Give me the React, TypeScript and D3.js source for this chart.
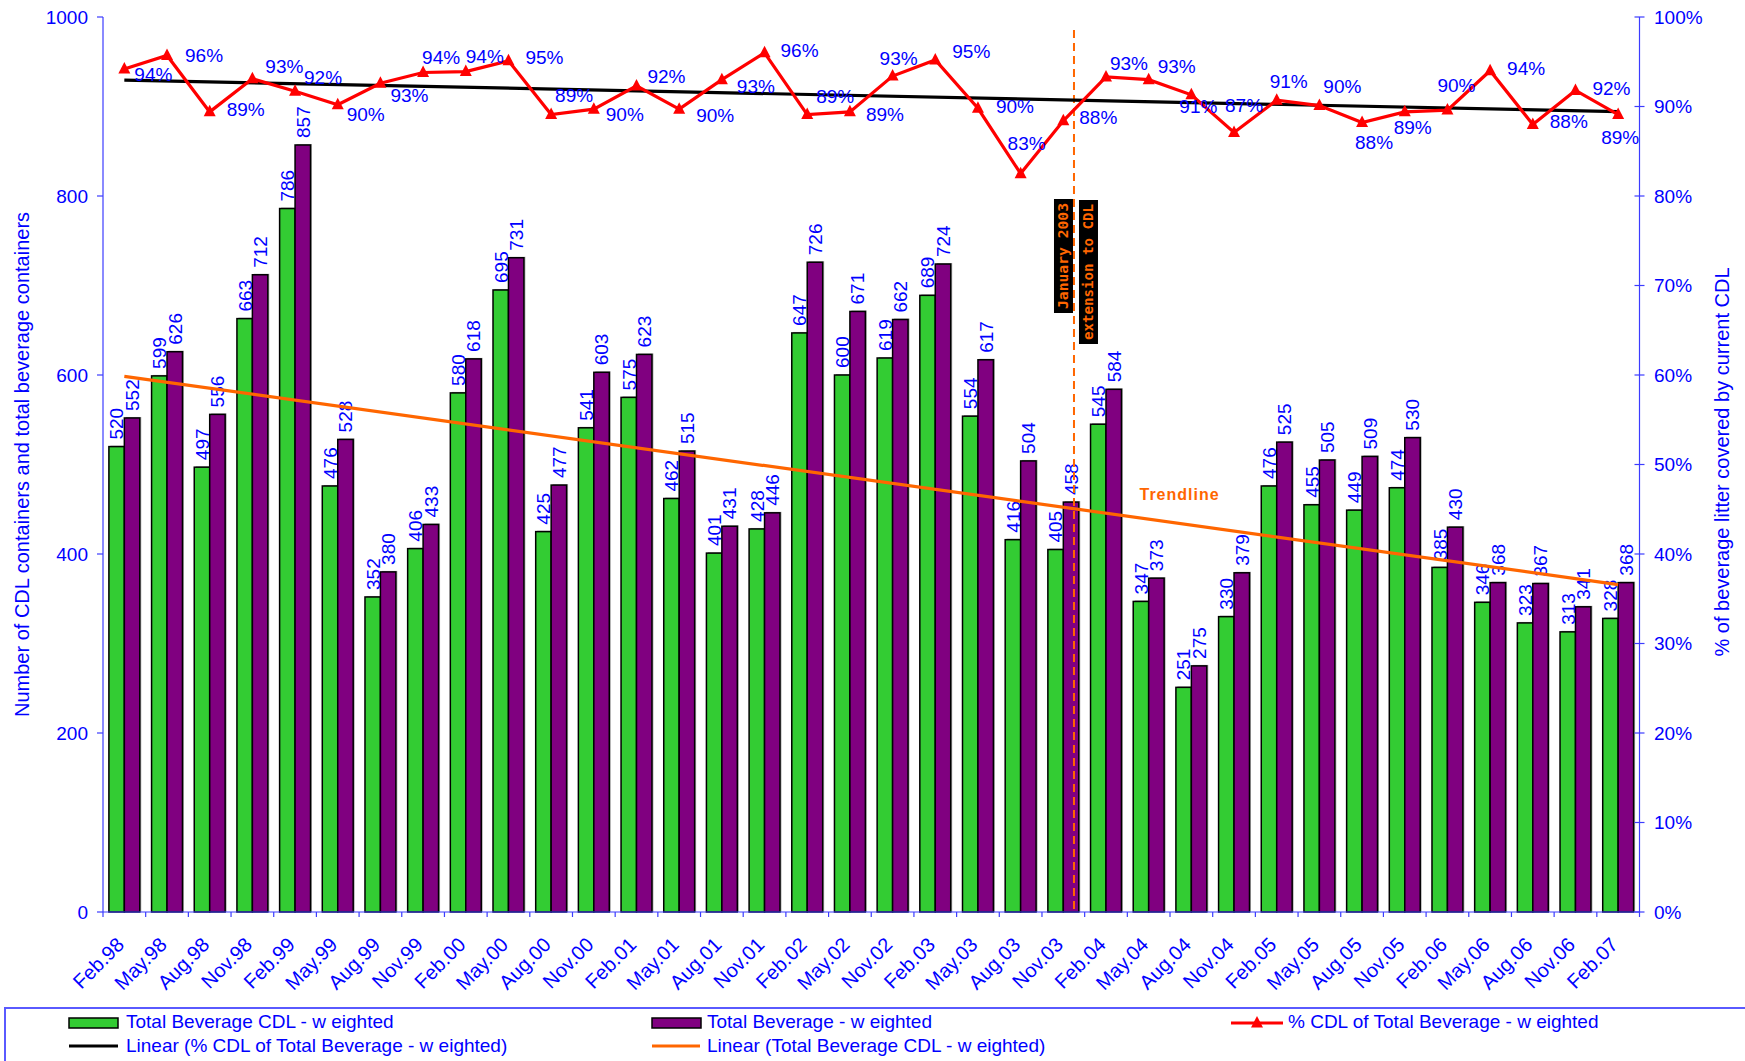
import React from "react";
import * as d3 from "d3";

// ---------- data ----------
const categories = [
  "Feb.98", "May.98", "Aug.98", "Nov.98", "Feb.99", "May.99", "Aug.99", "Nov.99",
  "Feb.00", "May.00", "Aug.00", "Nov.00", "Feb.01", "May.01", "Aug.01", "Nov.01",
  "Feb.02", "May.02", "Nov.02", "Feb.03", "May.03", "Aug.03", "Nov.03", "Feb.04",
  "May.04", "Aug.04", "Nov.04", "Feb.05", "May.05", "Aug.05", "Nov.05", "Feb.06",
  "May.06", "Aug.06", "Nov.06", "Feb.07",
];

const totalBeverageCDL = [
  520, 599, 497, 663, 786, 476, 352, 406, 580, 695, 425, 541, 575, 462, 401, 428,
  647, 600, 619, 689, 554, 416, 405, 545, 347, 251, 330, 476, 455, 449, 474, 385,
  346, 323, 313, 328,
];

const totalBeverage = [
  552, 626, 556, 712, 857, 528, 380, 433, 618, 731, 477, 603, 623, 515, 431, 446,
  726, 671, 662, 724, 617, 504, 458, 584, 373, 275, 379, 525, 505, 509, 530, 430,
  368, 367, 341, 368,
];

const pctCDL = [
  94.2, 95.7, 89.4, 93.1, 91.7, 90.2, 92.6, 93.8, 93.9, 95.1, 89.1, 89.7, 92.3, 89.7,
  93.0, 96.0, 89.1, 89.4, 93.4, 95.2, 89.8, 82.5, 88.4, 93.3, 93.0, 91.3, 87.1, 90.7,
  90.1, 88.2, 89.4, 89.6, 94.0, 88.0, 91.8, 89.1,
];

const leftTicks = [0, 200, 400, 600, 800, 1000];
const rightTicks = [0, 10, 20, 30, 40, 50, 60, 70, 80, 90, 100];

// ---------- layout (label nudges, px) ----------
const pctLabelOffsets: [number, number][] = [
  [29, 6], [37, 0], [36, -2], [32, -12], [28, -14], [28, 10], [29, 12], [18, -15],
  [19, -15], [36, -3], [23, -19], [31, 5], [30, -9], [36, 6], [34, 7], [35, -2],
  [28, -18], [35, 3], [6, -18], [36, -8], [37, -2], [6, -30], [35, -3], [23, -13],
  [28, -13], [7, 12], [10, -27], [12, -19], [23, -19], [12, 20], [8, 16], [9, -25],
  [36, -2], [36, -3], [36, -2], [2, 23],
];

const W = 1745;
const H = 1061;
const PL = 103;
const PR = 1639.5;
const PT = 17;
const PB = 912;
const FONT = "'Liberation Sans', Arial, Helvetica, sans-serif";
const BLUE = "#0000ff";
const AXIS = "#3c3cff";
const GREEN = "#33cc33";
const PURPLE = "#800080";
const ORANGE = "#ff6600";

function linReg(vals: number[]) {
  const n = vals.length;
  const xs = d3.range(n);
  const mx = d3.mean(xs) as number;
  const my = d3.mean(vals) as number;
  let num = 0;
  let den = 0;
  xs.forEach((x, i) => {
    num += (x - mx) * (vals[i] - my);
    den += (x - mx) * (x - mx);
  });
  const b = num / den;
  const a = my - b * mx;
  return (x: number) => a + b * x;
}

export default function App() {
  const x = d3.scaleBand<string>().domain(categories).range([PL, PR]).padding(0);
  const bw = x.bandwidth();
  const barW = bw * 0.362;
  const cx = (c: string) => (x(c) as number) + bw / 2;
  const yL = d3.scaleLinear().domain([0, 1000]).range([PB, PT]);
  const yR = d3.scaleLinear().domain([0, 100]).range([PB, PT]);

  const pctLine = d3
    .line<number>()
    .x((_, i) => cx(categories[i]))
    .y((d) => yR(d));

  const regPct = linReg(pctCDL);
  const regCDL = linReg(totalBeverageCDL);
  const n = categories.length;
  const x0 = cx(categories[0]);
  const x1 = cx(categories[n - 1]);

  const tri = (px: number, py: number, s = 1) =>
    `M${px},${py - 7 * s}L${px + 6 * s},${py + 4.5 * s}L${px - 6 * s},${py + 4.5 * s}Z`;

  const dashX = (x("Nov.03") as number) + bw * 0.75;

  const barLabel = (bx: number, v: number, key: string) => (
    <text
      key={key}
      transform={`translate(${bx + barW / 2},${yL(v) - 7}) rotate(-90)`}
      textAnchor="start"
      dy="0.36em"
      fontSize={19}
      fill={BLUE}
    >
      {v}
    </text>
  );

  return (
    <svg
      width={W}
      height={H}
      style={{ position: "absolute", left: 0, top: 0, background: "#fff" }}
      fontFamily={FONT}
    >
      <rect x={0} y={0} width={W} height={H} fill="#fff" />

      {/* bars */}
      {categories.map((c, i) => {
        const gx = cx(c) - barW;
        const px = cx(c);
        return (
          <g key={c}>
            <rect x={gx + 1.5} y={yL(totalBeverageCDL[i]) - 1} width={barW} height={PB - yL(totalBeverageCDL[i]) + 1} fill="#aaaaaa" />
            <rect x={px + 1.5} y={yL(totalBeverage[i]) - 1} width={barW} height={PB - yL(totalBeverage[i]) + 1} fill="#aaaaaa" />
            <rect x={gx} y={yL(totalBeverageCDL[i])} width={barW} height={PB - yL(totalBeverageCDL[i])} fill={GREEN} stroke="#000" strokeWidth={1.5} />
            <rect x={px} y={yL(totalBeverage[i])} width={barW} height={PB - yL(totalBeverage[i])} fill={PURPLE} stroke="#000" strokeWidth={1.5} />
          </g>
        );
      })}

      {/* bar labels */}
      {categories.map((c, i) => barLabel(cx(c) - barW, totalBeverageCDL[i], "g" + c))}
      {categories.map((c, i) => barLabel(cx(c), totalBeverage[i], "p" + c))}

      {/* orange trendline */}
      <line x1={x0} y1={yL(regCDL(0))} x2={x1} y2={yL(regCDL(n - 1))} stroke={ORANGE} strokeWidth={3.2} />
      <text x={1139.5} y={494} dominantBaseline="central" fontSize={16} fontWeight="bold" fill={ORANGE} letterSpacing={1}>
        Trendline
      </text>

      {/* dashed marker line */}
      <line x1={dashX} y1={30} x2={dashX} y2={PB} stroke={ORANGE} strokeWidth={2} strokeDasharray="8,5" />
      <rect x={dashX - 20} y={199} width={19} height={114} fill="#000" />
      <text
        transform={`translate(${dashX - 10.5},256) rotate(-90)`}
        textAnchor="middle"
        dominantBaseline="central"
        fontFamily="'DejaVu Sans Mono', monospace"
        fontWeight="bold"
        fontSize={14}
        fill={ORANGE}
        textLength={106}
        lengthAdjust="spacingAndGlyphs"
      >
        January 2003
      </text>
      <rect x={dashX + 5} y={200} width={19} height={144} fill="#000" />
      <text
        transform={`translate(${dashX + 14.5},272) rotate(-90)`}
        textAnchor="middle"
        dominantBaseline="central"
        fontFamily="'DejaVu Sans Mono', monospace"
        fontWeight="bold"
        fontSize={14}
        fill={ORANGE}
        textLength={136}
        lengthAdjust="spacingAndGlyphs"
      >
        extension to CDL
      </text>

      {/* black trendline for % */}
      <line x1={x0} y1={yR(regPct(0))} x2={x1} y2={yR(regPct(n - 1))} stroke="#000" strokeWidth={3.2} />

      {/* red % line */}
      <path d={pctLine(pctCDL) as string} fill="none" stroke="#ff0000" strokeWidth={3.2} strokeLinejoin="miter" />
      {pctCDL.map((p, i) => (
        <path key={"m" + i} d={tri(cx(categories[i]), yR(p))} fill="#ff0000" />
      ))}
      {pctCDL.map((p, i) => (
        <text
          key={"pl" + i}
          x={cx(categories[i]) + pctLabelOffsets[i][0]}
          y={yR(p) + pctLabelOffsets[i][1]}
          textAnchor="middle"
          dominantBaseline="central"
          fontSize={19}
          fill={BLUE}
        >
          {Math.round(p)}%
        </text>
      ))}

      {/* axes */}
      <line x1={PL} y1={PT} x2={PL} y2={PB} stroke={AXIS} strokeWidth={1.2} />
      <line x1={PR} y1={PT} x2={PR} y2={PB} stroke={AXIS} strokeWidth={1.2} />
      <line x1={PL} y1={PB} x2={PR} y2={PB} stroke={AXIS} strokeWidth={1.2} />
      {leftTicks.map((t) => (
        <g key={"lt" + t}>
          <line x1={PL - 6} x2={PL} y1={yL(t)} y2={yL(t)} stroke={AXIS} strokeWidth={1.2} />
          <text x={88} y={yL(t)} textAnchor="end" dominantBaseline="central" fontSize={19} fill={BLUE}>
            {t}
          </text>
        </g>
      ))}
      {rightTicks.map((t) => (
        <g key={"rt" + t}>
          <line x1={PR - 5} x2={PR + 5} y1={yR(t)} y2={yR(t)} stroke={AXIS} strokeWidth={1.2} />
          <text x={1654} y={yR(t)} textAnchor="start" dominantBaseline="central" fontSize={19} fill={BLUE}>
            {t}%
          </text>
        </g>
      ))}
      {[...categories.map((c) => x(c) as number), PR].map((bx, i) => (
        <line key={"xt" + i} x1={bx} x2={bx} y1={PB} y2={PB + 5} stroke={AXIS} strokeWidth={1.2} />
      ))}
      {categories.map((c) => (
        <text
          key={"xl" + c}
          transform={`translate(${cx(c) + 1},946) rotate(-45)`}
          textAnchor="end"
          fontSize={20}
          fill={BLUE}
        >
          {c}
        </text>
      ))}

      {/* axis titles */}
      <text transform={`translate(29,${(PT + PB) / 2}) rotate(-90)`} textAnchor="middle" fontSize={20} fill={BLUE}>
        Number of CDL containers and total beverage containers
      </text>
      <text transform={`translate(1729,462) rotate(-90)`} textAnchor="middle" fontSize={20} fill={BLUE}>
        % of beverage litter covered by current CDL
      </text>

      {/* legend */}
      <rect x={5} y={1008} width={1800} height={120} fill="#fff" stroke="#5a5aff" strokeWidth={2} />
      <rect x={69} y={1018} width={49} height={10} fill={GREEN} stroke="#000" strokeWidth={1.5} />
      <text x={126} y={1027.5} fontSize={19} fill={BLUE}>Total Beverage CDL - w eighted</text>
      <rect x={652} y={1018} width={49} height={10} fill={PURPLE} stroke="#000" strokeWidth={1.5} />
      <text x={707} y={1027.5} fontSize={19} fill={BLUE}>Total Beverage - w eighted</text>
      <line x1={1231} x2={1283} y1={1023} y2={1023} stroke="#ff0000" strokeWidth={3.2} />
      <path d={tri(1257, 1023)} fill="#ff0000" />
      <text x={1288} y={1027.5} fontSize={19} fill={BLUE}>% CDL of Total Beverage - w eighted</text>
      <line x1={69} x2={118} y1={1046} y2={1046} stroke="#000" strokeWidth={3.2} />
      <text x={126} y={1052} fontSize={19} fill={BLUE}>Linear (% CDL of Total Beverage - w eighted)</text>
      <line x1={652} x2={700} y1={1046} y2={1046} stroke={ORANGE} strokeWidth={3.2} />
      <text x={707} y={1052} fontSize={19} fill={BLUE}>Linear (Total Beverage CDL - w eighted)</text>
    </svg>
  );
}
